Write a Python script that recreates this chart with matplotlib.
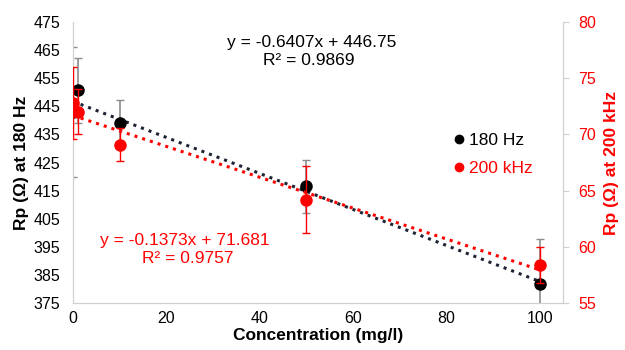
import numpy as np
import matplotlib.pyplot as plt
from matplotlib.lines import Line2D

plt.rcParams['font.family'] = ['Liberation Sans', 'DejaVu Sans']

conc = [0, 1, 10, 50, 100]
rp_180 = [443.0, 450.7, 439.2, 416.5, 381.8]
err_180 = [23.0, 11.5, 8.0, 9.5, 16.0]
rp_200k = [72.8, 72.0, 69.1, 64.2, 58.4]
err_200k = [3.2, 2.0, 1.5, 3.0, 1.6]

slope_180, icpt_180, r2_180 = -0.6407, 446.75, 0.9869
slope_200k, icpt_200k, r2_200k = -0.1373, 71.681, 0.9757

left_ticks = [375, 385, 395, 405, 415, 425, 435, 445, 455, 465, 475]
right_ticks = [55, 60, 65, 70, 75, 80]
x_ticks = [0, 20, 40, 60, 80, 100]

red = '#ff0000'

fig = plt.figure(figsize=(6.25, 3.5), dpi=100)
ax = fig.add_axes([0.1168, 0.1343, 0.784, 0.8027])
ax2 = ax.twinx()

xfit = np.array([0, 100])
ax.plot(xfit, slope_180 * xfit + icpt_180, linestyle=':', color='#1c2333', linewidth=2.2, zorder=2)
ax2.plot(xfit, slope_200k * xfit + icpt_200k, linestyle=':', color=red, linewidth=2.2, zorder=2)

ax.errorbar(conc, rp_180, yerr=err_180, fmt='o', color='black', ecolor='#8c8c8c',
            elinewidth=1.2, capsize=3, markersize=8, zorder=3)
ax2.errorbar(conc, rp_200k, yerr=err_200k, fmt='o', color=red, ecolor=red,
             elinewidth=1.0, capsize=3, markersize=8, zorder=3)

ax.set_xlim(0, 105)
ax.set_ylim(375, 475)
ax2.set_ylim(55, 80)
ax.set_xticks(x_ticks)
ax.set_yticks(left_ticks)
ax2.set_yticks(right_ticks)

for a in (ax, ax2):
    for s in a.spines.values():
        s.set_color('#d0d0d0')
    a.spines['top'].set_visible(False)

ax.tick_params(axis='x', length=0, labelsize=11.5, pad=6)
ax.tick_params(axis='y', length=0, labelsize=11.5, pad=9)
ax2.tick_params(axis='y', length=4, color='#d0d0d0', labelsize=11.5, labelcolor=red, pad=7)

ax.set_xlabel('Concentration (mg/l)', fontsize=12.5, fontweight='bold', labelpad=1)
ax.set_ylabel('Rp (Ω) at 180 Hz', fontsize=12.5, fontweight='bold', labelpad=3)
ax2.set_ylabel('Rp (Ω) at 200 kHz', fontsize=12.5, fontweight='bold', color=red, labelpad=6)

ax.text(51.2, 467.6, f'y = {slope_180}x + {icpt_180}', fontsize=12.5, ha='center', va='center')
ax.text(50.5, 461.4, f'R² = {r2_180}', fontsize=12.5, ha='center', va='center')
ax2.text(24.0, 60.6, f'y = {slope_200k}x + {icpt_200k}', fontsize=12.5, ha='center', va='center',
         color=red)
ax2.text(24.5, 59.0, f'R² = {r2_200k}', fontsize=12.5, ha='center', va='center', color=red)

handles = [Line2D([], [], linestyle='none', marker='o', color='black', markersize=6),
           Line2D([], [], linestyle='none', marker='o', color=red, markersize=6)]
leg = ax2.legend(handles, ['180 Hz', '200 kHz'], loc='center left', bbox_to_anchor=(0.745, 0.53),
                 frameon=False, fontsize=12.5, handlelength=0.6, handletextpad=0.3,
                 labelspacing=0.75)
for txt, c in zip(leg.get_texts(), ['black', red]):
    txt.set_color(c)

fig.savefig('out.png', dpi=100)
